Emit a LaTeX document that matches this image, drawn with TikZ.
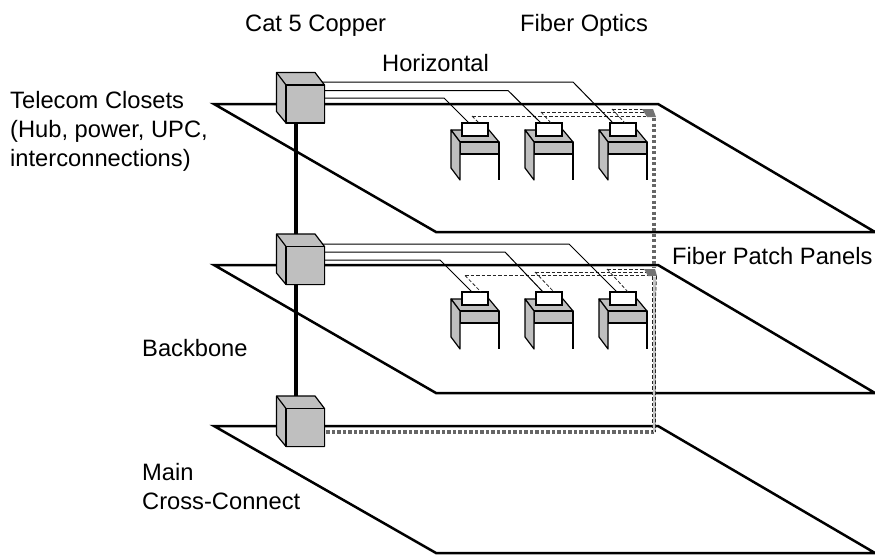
\documentclass[tikz,border=0pt]{standalone}
\usepackage{fontspec}
\setmainfont{Liberation Sans}
\tikzset{
 x=1pt,y=-1pt,
 floorline/.style={line width=2.5pt,line join=miter},
 gbox/.style={draw=black,fill=gray!50!white,line width=1.2pt,line join=round},
 wbox/.style={draw=black,fill=white,line width=1.2pt},
 cable/.style={line width=1pt},
 fiber/.style={line width=0.8pt,dash pattern=on 3.5pt off 2pt,draw=black!85},
 riser/.style={line width=3.5pt,dash pattern=on 3.3pt off 2.2pt,draw=black!60},
 backbone/.style={line width=4pt},
 lab/.style={font=\fontsize{23.7}{29}\selectfont,align=left,inner sep=0pt,anchor=base west},
 panel/.style={fill=black!55,draw=none},
}
\newcommand{\floorpl}[2]{\draw[floorline] (214,#1) -- (658,#1) -- (875,#1+#2) -- (436,#1+#2) -- cycle;}
\newcommand{\deskunit}[2]{%
 \begin{scope}[shift={(#1,#2)}]
  \fill[gbox] (0,0) -- (38,0) -- (48,12) -- (9,12) -- cycle;
  \fill[gbox] (9,12) -- (48,12) -- (48,24) -- (9,24) -- cycle;
  \fill[gbox] (0,0) -- (9,12) -- (9,50) -- (0,38) -- cycle;
  \draw[line width=1.2pt] (48,24) -- (48,50);
  \draw[wbox] (11,-7) rectangle (37,6);
 \end{scope}}
\newcommand{\cube}[2]{%
 \begin{scope}[shift={(#1,#2)}]
  \fill[gbox] (0,0) -- (38.5,0) -- (48,12.5) -- (48,50.5) -- (9.5,50.5) -- (0,39) -- cycle;
  \draw[gbox] (9.5,12.5) rectangle (48,50.5);
  \draw[gbox,fill=none] (0,0) -- (9.5,12.5);
 \end{scope}}
\begin{document}
\begin{tikzpicture}
\useasboundingbox (0,0) rectangle (875,554);
% floors
\floorpl{104}{128}
\floorpl{265}{128}
\floorpl{426}{127}
% backbone
\coordinate (bt) at (296,123);
\coordinate (bb) at (296,396);
\draw[backbone] (bt) -- (bb);
% riser
\coordinate (r1) at (654,118);
\coordinate (r1b) at (654,268);
\coordinate (r2) at (654,432);
\coordinate (r3) at (324,432);
\draw[riser] (r1) -- (r1b);
\draw[riser] (r2) -- (r3);
\draw[line width=3pt,draw=black!22] (654,277) -- (654,432);
\draw[fiber] (656.5,276) -- (655.5,300) -- (655.5,432);
\draw[fiber] (652,276) -- (652,432);
% desks
\foreach \dx in {451,525,599} {\deskunit{\dx}{130}\deskunit{\dx}{299}}
% fibres top
\draw[fiber] (472,116) -- (655,116);
\draw[fiber] (472,116) -- (479,123);
\draw[fiber] (541,112) -- (650,112);
\draw[fiber] (541,112) -- (551,123);
\draw[fiber] (612,109) -- (650,109);
\draw[fiber] (612,109) -- (625,123);
% fibres middle
\draw[fiber] (465,275.5) -- (655,275.5);
\draw[fiber] (465,275.5) -- (481,292);
\draw[fiber] (535,272) -- (650,272);
\draw[fiber] (535,272) -- (554,292);
\draw[fiber] (607,269) -- (650,269);
\draw[fiber] (607,269) -- (628,292);
% patch panels
\fill[panel] (642,109) -- (653,109) -- (656,117) -- (647,117) -- cycle;
\fill[panel] (644,269) -- (655,269) -- (657,276) -- (648,276) -- cycle;
% copper top
\draw[cable] (315,82) -- (573,82) -- (613,123);
\draw[cable] (315,90.5) -- (508,90.5) -- (541,123);
\draw[cable] (315,98) -- (444,98) -- (469,123);
% copper middle
\draw[cable] (315,244) -- (569,244) -- (617,292);
\draw[cable] (315,252) -- (505,252) -- (543,292);
\draw[cable] (315,260) -- (440,260) -- (472,292);
% cubes
\cube{276.5}{72.5}
\cube{276.5}{234}
\cube{276.5}{396}
% labels
\node[lab] (cat) at (245,31) {Cat 5 Copper};
\node[lab] (fo) at (520,31) {Fiber Optics};
\node[lab] (hz) at (382,71) {Horizontal};
\node[lab] (tc1) at (10,108) {Telecom Closets};
\node[lab] (tc2) at (10,137) {(Hub, power, UPC,};
\node[lab] (tc3) at (10,166) {interconnections)};
\node[lab] (fp) at (672,264) {Fiber Patch Panels};
\node[lab] (bk) at (142,356) {Backbone};
\node[lab] (mc1) at (142,480) {Main};
\node[lab] (mc2) at (142,509) {Cross-Connect};
\end{tikzpicture}
\end{document}
